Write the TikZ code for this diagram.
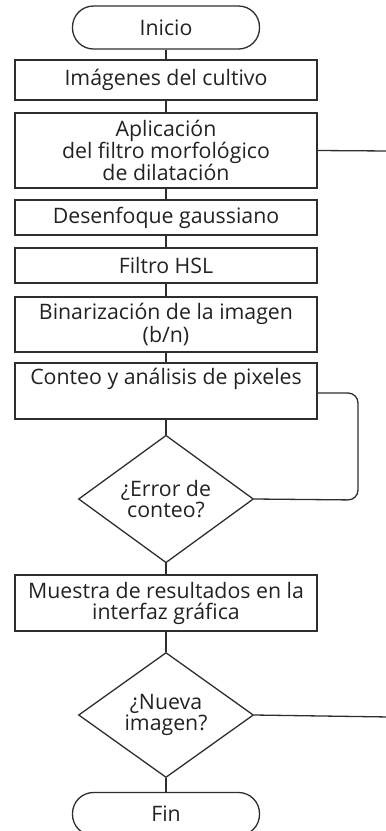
\documentclass[tikz,border=0pt]{standalone}
\usepackage{fontspec}
\setmainfont{Open Sans}
\usetikzlibrary{shapes.geometric}
\definecolor{ink}{HTML}{2E2E2E}
\definecolor{txt}{HTML}{222222}
\begin{document}
\begin{tikzpicture}[x=1pt,y=-1pt,
  every node/.style={text=txt,font=\fontsize{21.3}{21}\selectfont},
  procbox/.style={draw=ink,line width=1.3pt,rectangle,minimum width=302pt,align=center,inner sep=0pt},
  termbox/.style={draw=ink,line width=1.3pt,rectangle,rounded corners=21pt,minimum width=187pt,minimum height=43pt,inner sep=0pt},
  decbox/.style={draw=ink,line width=1.3pt,diamond,minimum width=175pt,minimum height=125pt,inner sep=0pt,align=center},
  conn/.style={draw=ink,line width=1.3pt}]
\useasboundingbox (0,0) rectangle (386,831);
\node[termbox] (start) at (166,27.5) {Inicio};
\node[procbox,minimum height=40pt] (b1) at (166,80) {Imágenes del cultivo};
\node[procbox,minimum height=75pt] (b2) at (166,150.5) {Aplicación\\del filtro morfológico\\de dilatación};
\node[procbox,minimum height=35pt] (b3) at (166,217.5) {Desenfoque gaussiano};
\node[procbox,minimum height=35pt] (b4) at (166,265.5) {Filtro HSL};
\node[procbox,minimum height=55pt] (b5) at (166,324.5) {Binarización de la imagen\\(b/n)};
\node[procbox,minimum height=56pt] (b6) at (166,391) {};
\node[anchor=north,inner sep=0pt] (b6t) at (166,368) {Conteo y análisis de pixeles};
\node[decbox] (d1) at (166,499) {¿Error de\\conteo?};
\node[procbox,minimum height=56pt] (b7) at (166,603) {Muestra de resultados en la\\interfaz gráfica};
\node[decbox] (d2) at (166,715) {¿Nueva\\imagen?};
\node[termbox] (end) at (166,814) {Fin};
\coordinate (c1) at (390,151);
\coordinate (c2) at (390,717);
\path[conn] (start) -- (b1);
\path[conn] (b1) -- (b2);
\path[conn] (b2) -- (b3);
\path[conn] (b3) -- (b4);
\path[conn] (b4) -- (b5);
\path[conn] (b5) -- (b6);
\path[conn] (b6) -- (d1);
\path[conn] (d1) -- (b7);
\path[conn] (b7) -- (d2);
\path[conn] (d2) -- (end);
\path[conn] (b2.east) -- (c1);
\path[conn] (d2.east) -- (c2);
\path[conn,rounded corners=10pt] (b6.east |- 0,393) -- (358,393) -- (358,500) -- (d1.east);
\end{tikzpicture}
\end{document}
